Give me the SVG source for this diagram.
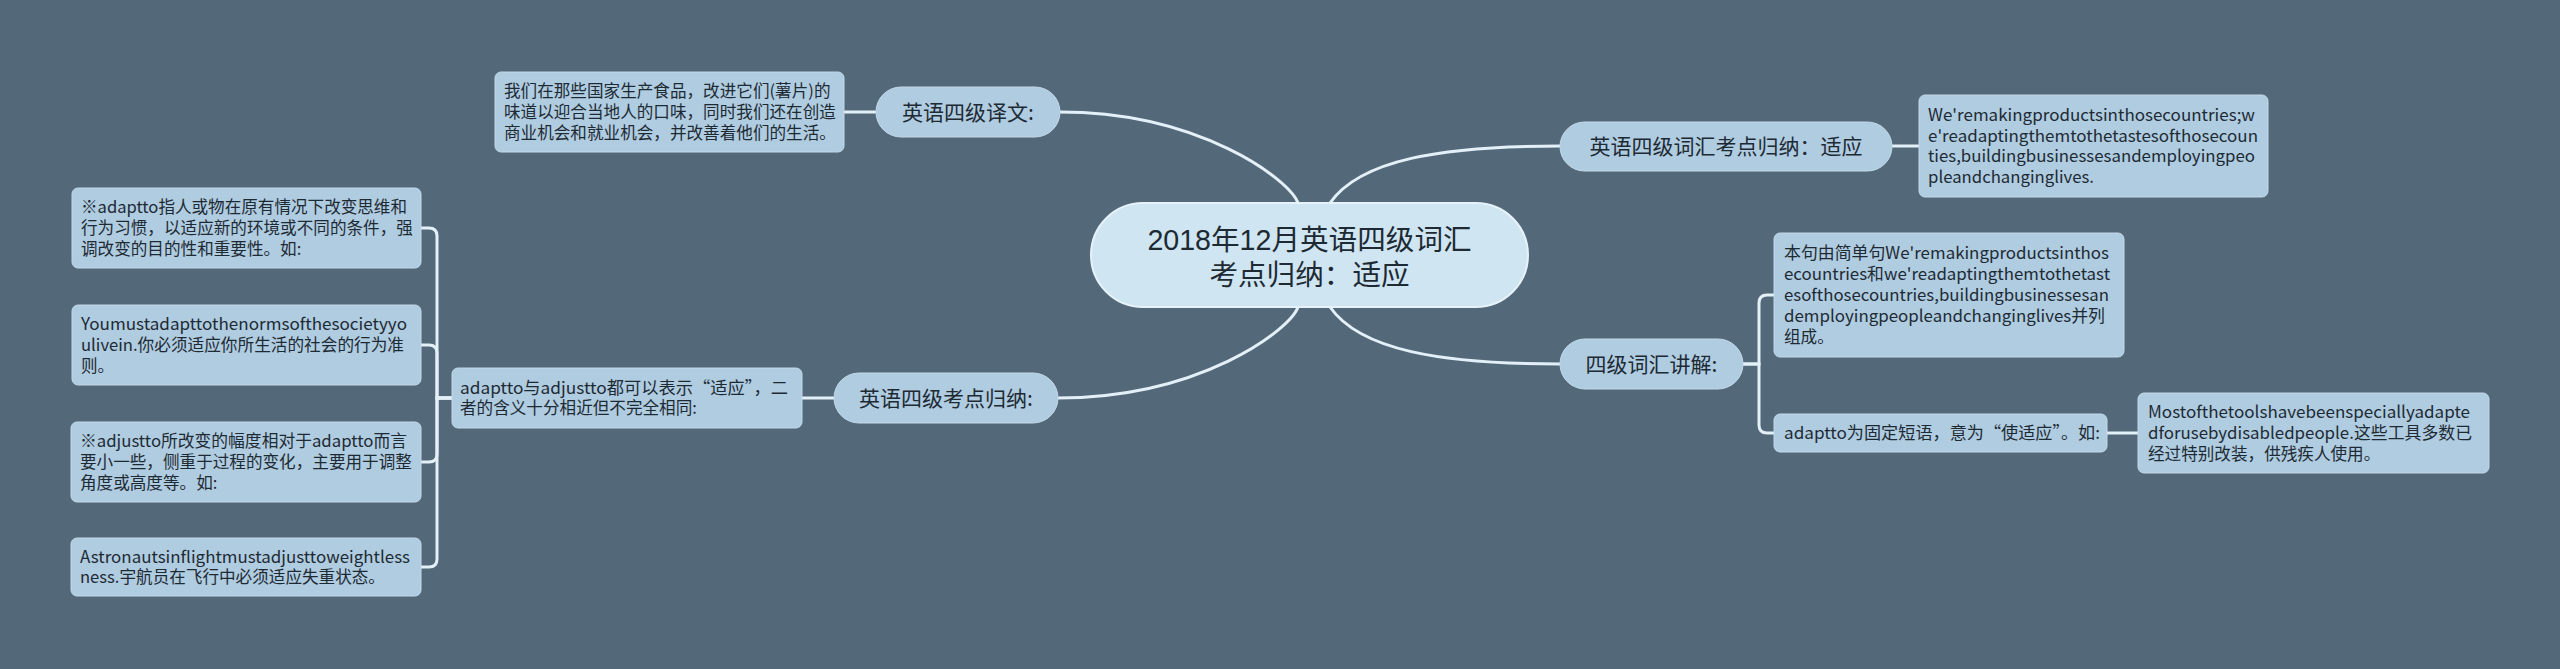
<svg xmlns="http://www.w3.org/2000/svg" width="2560" height="669" viewBox="0 0 2560 669">
<style>
.bg{fill:#53697a}
.box{fill:#afcce1;stroke:#c3d9e8;stroke-width:1}
.l1{fill:#afcce1;stroke:#c3d9e8;stroke-width:1}
.root{fill:#cfe5f2;stroke:#e6f2fa;stroke-width:2}
text{font-family:"Noto Sans CJK SC","Noto Sans",sans-serif;fill:#1e2a33}
.t{font-size:16.6px}
.h1{font-size:21px;text-anchor:middle}
.h0{font-size:28.6px;text-anchor:middle;font-family:"Liberation Sans","Noto Sans CJK SC",sans-serif}
#connectors path{fill:none;stroke:#e4f0f8;stroke-width:3}
</style>
<rect class="bg" x="0" y="0" width="2560" height="669"/>
<g id="connectors">
<path d="M1060,112 C1200,112 1290,180 1298,203"/>
<path d="M1330,203 C1360,160 1440,146 1560,146"/>
<path d="M1058,398 C1200,398 1290,330 1298,307"/>
<path d="M1330,307 C1360,350 1440,364 1560,364"/>
<path d="M876,112 H844"/>
<path d="M1892,146 H1919"/>
<path d="M834,398 H802"/>
<path d="M2107,433 H2138"/>
<path d="M1743,364 H1759 V303 Q1759,295 1767,295 H1774"/>
<path d="M1743,364 H1759 V425 Q1759,433 1767,433 H1774"/>
<path d="M452,398 H437 V236 Q437,228 429,228 H421"/>
<path d="M452,398 H437 V353 Q437,345 429,345 H421"/>
<path d="M452,398 H437 V454 Q437,462 429,462 H421"/>
<path d="M452,398 H437 V559 Q437,567 429,567 H421"/>
</g>
<g id="root">
<rect class="root" x="1091" y="203" width="437" height="104" rx="52"/>
<text class="h0" x="1309.5" y="250">2018年12月英语四级词汇</text>
<text class="h0" x="1309.5" y="285">考点归纳：适应</text>
</g>
<g id="n-yiwen">
<rect class="l1" x="876" y="87" width="184" height="50" rx="25"/>
<text class="h1" x="968" y="119.5">英语四级译文:</text>
</g>
<g id="n-yiwen-box">
<rect class="box" x="495" y="72" width="349" height="80" rx="6"/>
<text class="t" x="504" y="97.2">我们在那些国家生产食品，改进它们(薯片)的</text>
<text class="t" x="504" y="118">味道以迎合当地人的口味，同时我们还在创造</text>
<text class="t" x="504" y="138.8">商业机会和就业机会，并改善着他们的生活。</text>
</g>
<g id="n-cihui">
<rect class="l1" x="1560" y="122" width="332" height="49" rx="24.5"/>
<text class="h1" x="1726" y="154">英语四级词汇考点归纳：适应</text>
</g>
<g id="n-cihui-box">
<rect class="box" x="1919" y="95" width="349" height="102" rx="6"/>
<text class="t" x="1928" y="120.8" textLength="327" lengthAdjust="spacingAndGlyphs">We'remakingproductsinthosecountries;w</text>
<text class="t" x="1928" y="141.6" textLength="330" lengthAdjust="spacingAndGlyphs">e'readaptingthemtothetastesofthosecoun</text>
<text class="t" x="1928" y="162.4" textLength="327" lengthAdjust="spacingAndGlyphs">ties,buildingbusinessesandemployingpeo</text>
<text class="t" x="1928" y="183.2" textLength="166" lengthAdjust="spacingAndGlyphs">pleandchanginglives.</text>
</g>
<g id="n-jiangjie">
<rect class="l1" x="1560" y="339" width="183" height="50" rx="25"/>
<text class="h1" x="1651.5" y="371.5">四级词汇讲解:</text>
</g>
<g id="n-jiangjie-box1">
<rect class="box" x="1774" y="233" width="350" height="124" rx="6"/>
<text class="t" x="1784" y="259.4" textLength="325" lengthAdjust="spacingAndGlyphs">本句由简单句We'remakingproductsinthos</text>
<text class="t" x="1784" y="280.2" textLength="326" lengthAdjust="spacingAndGlyphs">ecountries和we'readaptingthemtothetast</text>
<text class="t" x="1784" y="301" textLength="325" lengthAdjust="spacingAndGlyphs">esofthosecountries,buildingbusinessesan</text>
<text class="t" x="1784" y="321.8" textLength="321" lengthAdjust="spacingAndGlyphs">demployingpeopleandchanginglives并列</text>
<text class="t" x="1784" y="342.6">组成。</text>
</g>
<g id="n-jiangjie-box2">
<rect class="box" x="1774" y="414" width="333" height="38" rx="6"/>
<text class="t" x="1784" y="439" textLength="316" lengthAdjust="spacingAndGlyphs">adaptto为固定短语，意为“使适应”。如:</text>
</g>
<g id="n-example-box">
<rect class="box" x="2138" y="393" width="351" height="80" rx="6"/>
<text class="t" x="2148" y="418.2" textLength="322" lengthAdjust="spacingAndGlyphs">Mostofthetoolshavebeenspeciallyadapte</text>
<text class="t" x="2148" y="439" textLength="324" lengthAdjust="spacingAndGlyphs">dforusebydisabledpeople.这些工具多数已</text>
<text class="t" x="2148" y="459.8">经过特别改装，供残疾人使用。</text>
</g>
<g id="n-kaodian">
<rect class="l1" x="834" y="373" width="224" height="50" rx="25"/>
<text class="h1" x="946" y="405.5">英语四级考点归纳:</text>
</g>
<g id="n-kaodian-box">
<rect class="box" x="452" y="368" width="350" height="60" rx="6"/>
<text class="t" x="460" y="393.6" textLength="328" lengthAdjust="spacingAndGlyphs">adaptto与adjustto都可以表示“适应”，二</text>
<text class="t" x="460" y="414.4">者的含义十分相近但不完全相同:</text>
</g>
<g id="n-box-a">
<rect class="box" x="72" y="188" width="349" height="80" rx="6"/>
<text class="t" x="81" y="213.2" textLength="326" lengthAdjust="spacingAndGlyphs">※adaptto指人或物在原有情况下改变思维和</text>
<text class="t" x="81" y="234">行为习惯，以适应新的环境或不同的条件，强</text>
<text class="t" x="81" y="254.8">调改变的目的性和重要性。如:</text>
</g>
<g id="n-box-b">
<rect class="box" x="72" y="305" width="349" height="80" rx="6"/>
<text class="t" x="81" y="330.2" textLength="326" lengthAdjust="spacingAndGlyphs">Youmustadapttothenormsofthesocietyyo</text>
<text class="t" x="81" y="351" textLength="323" lengthAdjust="spacingAndGlyphs">ulivein.你必须适应你所生活的社会的行为准</text>
<text class="t" x="81" y="371.8">则。</text>
</g>
<g id="n-box-c">
<rect class="box" x="71" y="422" width="350" height="80" rx="6"/>
<text class="t" x="80" y="447.2" textLength="327" lengthAdjust="spacingAndGlyphs">※adjustto所改变的幅度相对于adaptto而言</text>
<text class="t" x="80" y="468">要小一些，侧重于过程的变化，主要用于调整</text>
<text class="t" x="80" y="488.8">角度或高度等。如:</text>
</g>
<g id="n-box-d">
<rect class="box" x="71" y="538" width="350" height="58" rx="6"/>
<text class="t" x="80" y="562.6" textLength="330" lengthAdjust="spacingAndGlyphs">Astronautsinflightmustadjusttoweightless</text>
<text class="t" x="80" y="583.4">ness.宇航员在飞行中必须适应失重状态。</text>
</g>
</svg>
